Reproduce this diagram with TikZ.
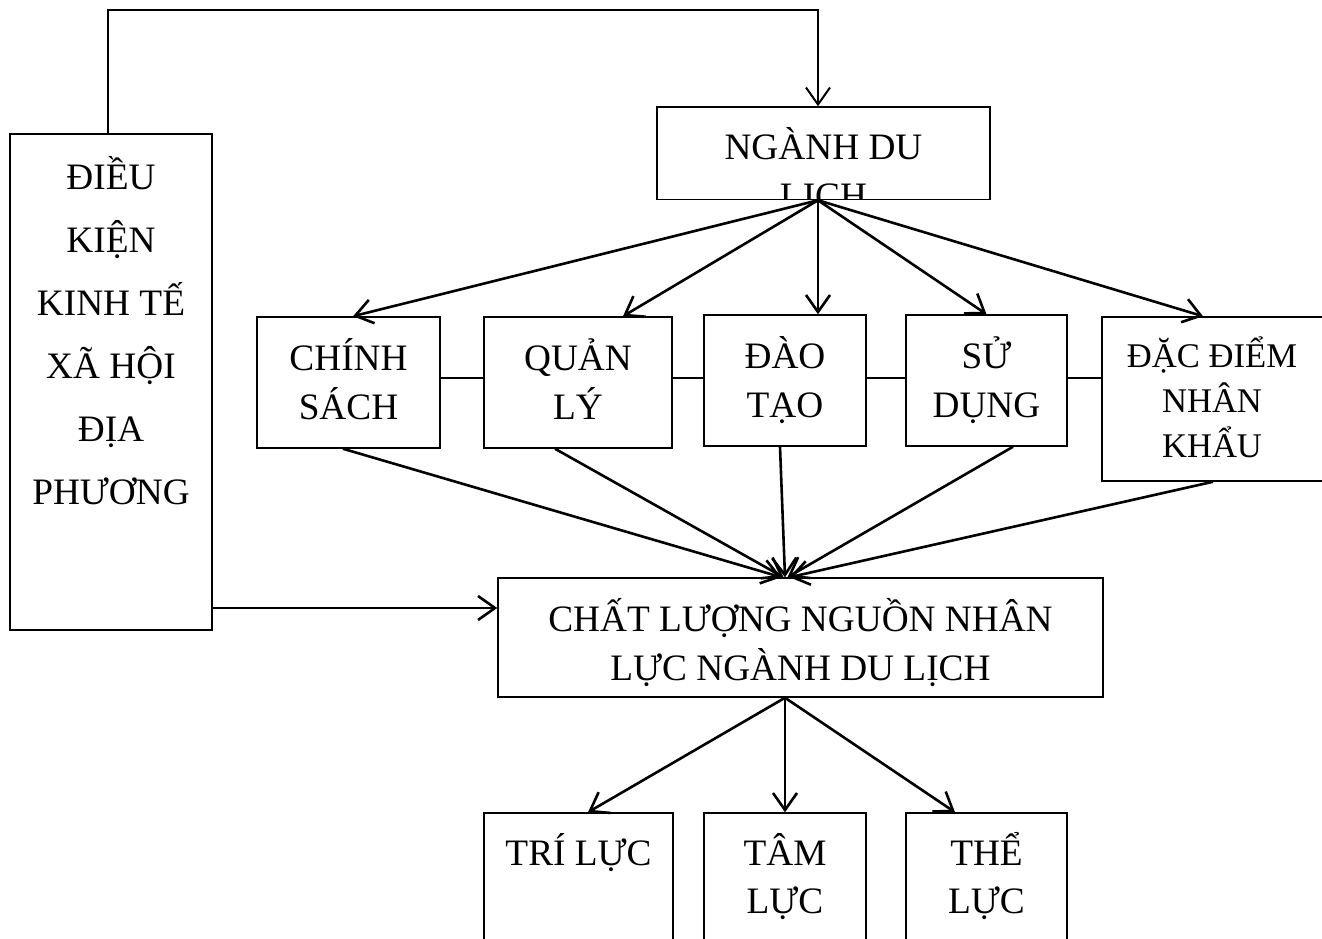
\documentclass[tikz,border=0pt]{standalone}
\usepackage{fontspec}
\setmainfont{Liberation Serif}
\usetikzlibrary{arrows.meta,calc}
\newcommand\ptx[1]{\parbox[t]{700pt}{\centering #1}}
\tikzset{
  box/.style={draw, line width=1.5pt, rectangle, inner sep=0pt},
  txt/.style={inner sep=0pt, anchor=base, font=\fontsize{37.3}{49}\selectfont},
  arr/.style={line width=2.6pt, -{Straight Barb[length=17pt,width=24pt]}},
  ln/.style={line width=2.2pt},
}
\begin{document}
\begin{tikzpicture}[x=1pt,y=-1pt]
\useasboundingbox (0,0) rectangle (1322,939);
\fill[white] (0,0) rectangle (1322,939);
\clip (0,0) rectangle (1322,939);

% boxes
\node[box, minimum width=202pt, minimum height=496pt] (lb) at (111,382) {};
\node[box, minimum width=333pt, minimum height=92.5pt] (ngnh) at (823.5,153.25) {};
\node[box, minimum width=183pt, minimum height=131pt] (chinh) at (348.5,382.5) {};
\node[box, minimum width=188pt, minimum height=131pt] (quan) at (578,382.5) {};
\node[box, minimum width=162pt, minimum height=131pt] (dao) at (785,380.5) {};
\node[box, minimum width=161pt, minimum height=131pt] (su) at (986.5,380.5) {};
\node[box, minimum width=222pt, minimum height=164pt] (dac) at (1213,399) {};
\node[box, minimum width=605pt, minimum height=119pt] (ch) at (800.5,637.5) {};
\node[box, minimum width=189pt, minimum height=147pt] (tri) at (578.5,886.5) {};
\node[box, minimum width=162pt, minimum height=147pt] (tam) at (785,886.5) {};
\node[box, minimum width=161pt, minimum height=147pt] (the) at (986.5,886.5) {};

% texts
\node[txt, font=\fontsize{37.3}{63}\selectfont] (tlb) at (111,189) {\ptx{ĐIỀU\\KIỆN\\KINH TẾ\\XÃ HỘI\\ĐỊA\\PHƯƠNG}};
\begin{scope}
  \clip ([yshift=1.5pt]ngnh.south west) rectangle (ngnh.north east);
  \node[txt, font=\fontsize{37.3}{48.5}\selectfont] (tngnh) at (823.5,160) {\ptx{NGÀNH DU\\LỊCH}};
\end{scope}
\node[txt] (tchinh) at (348.5,370) {\ptx{CHÍNH\\SÁCH}};
\node[txt] (tquan) at (578,370) {\ptx{QUẢN\\LÝ}};
\node[txt] (tdao) at (785,368) {\ptx{ĐÀO\\TẠO}};
\node[txt] (tsu) at (986.5,368) {\ptx{SỬ\\DỤNG}};
\node[txt, font=\fontsize{34.6}{45}\selectfont] (tdac) at (1212,367) {\ptx{ĐẶC ĐIỂM\\NHÂN\\KHẨU}};
\node[txt] (tch) at (800.5,631) {\ptx{CHẤT LƯỢNG NGUỒN NHÂN\\LỰC NGÀNH DU LỊCH}};
\node[txt] (ttri) at (578.5,865) {\ptx{TRÍ LỰC}};
\node[txt, font=\fontsize{37.3}{48}\selectfont] (ttam) at (785,865) {\ptx{TÂM\\LỰC}};
\node[txt, font=\fontsize{37.3}{48}\selectfont] (tthe) at (986.5,865) {\ptx{THỂ\\LỰC}};

% named points
\coordinate (nt) at ([xshift=-5.5]ngnh.north);
\coordinate (nb) at ([xshift=-5.5]ngnh.south);
\coordinate (ytop) at (0,10);
\coordinate (chin) at ([yshift=29.5]ch.west);
\coordinate (cb) at ([xshift=-15.5]ch.south);

% top elbow connector
\draw[arr, line width=2pt] ([xshift=-3]lb.north) |- (ytop -| nt) -- (nt);

% from NGANH DU LICH
\draw[arr] (nb) -- ([xshift=4.5]chinh.north);
\draw[arr] (nb) -- ([xshift=45]quan.north);
\draw[arr] (nb) -- ([xshift=33]dao.north);
\draw[arr] (nb) -- (su.north);
\draw[arr] (nb) -- ([xshift=-10]dac.north);

% horizontal links
\draw[ln] ([yshift=4.5]chinh.east) -- ([yshift=4.5]quan.west);
\draw[ln] ([yshift=4.5]quan.east) -- ([yshift=2.5]dao.west);
\draw[ln] ([yshift=2.5]dao.east) -- ([yshift=2.5]su.west);
\draw[ln] ([yshift=2.5]su.east) -- ([yshift=21]dac.west);

% to CHAT LUONG
\draw[arr] ([xshift=-5.5]chinh.south) -- ([xshift=-19]ch.north);
\draw[arr] ([xshift=-23]quan.south) -- ([xshift=-17]ch.north);
\draw[arr] ([xshift=-5]dao.south) -- ([xshift=-15.5]ch.north);
\draw[arr] ([xshift=26.5]su.south) -- ([xshift=-13]ch.north);
\draw[arr] (dac.south) -- ([xshift=-11]ch.north);
\draw[arr] (chin -| lb.east) -- (chin);

% to bottom boxes
\draw[arr] (cb) -- ([xshift=9.5]tri.north);
\draw[arr] (cb) -- (tam.north);
\draw[arr] (cb) -- ([xshift=-31.5]the.north);
\end{tikzpicture}
\end{document}
